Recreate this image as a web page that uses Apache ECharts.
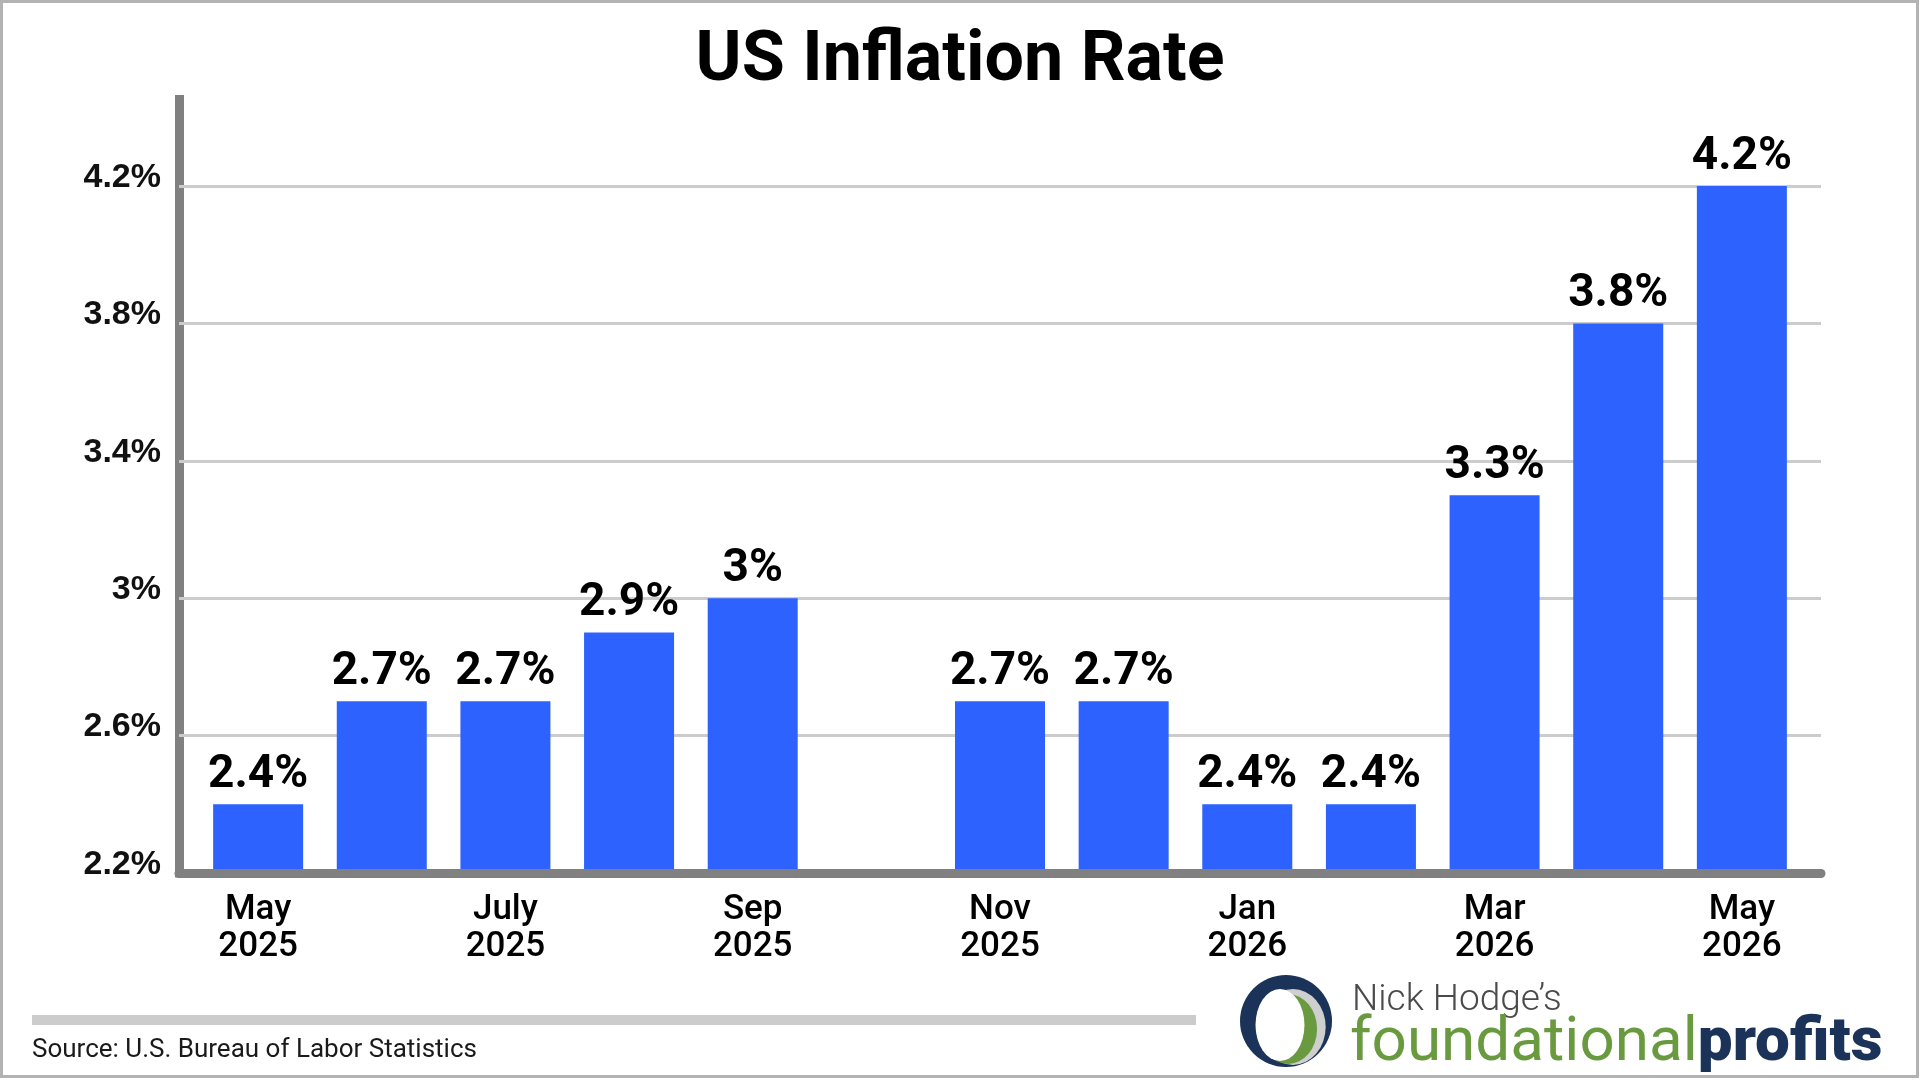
<!DOCTYPE html>
<html lang="en">
<head>
<meta charset="UTF-8">
<title>US Inflation Rate</title>
<script src="https://cdn.jsdelivr.net/npm/echarts@6.0.0/dist/echarts.min.js"></script>
<style>
  html, body { margin: 0; padding: 0; background: #fff; }
  #chart { width: 1920px; height: 1080px; }
</style>
</head>
<body>
<div id="chart"></div>
<script>
// months, Oct 2025 has no reading (null)
var categories = ['May 2025', 'Jun 2025', 'July 2025', 'Aug 2025', 'Sep 2025', 'Oct 2025',
                  'Nov 2025', 'Dec 2025', 'Jan 2026', 'Feb 2026', 'Mar 2026', 'Apr 2026', 'May 2026'];
var inflation = [2.4, 2.7, 2.7, 2.9, 3, null, 2.7, 2.7, 2.4, 2.4, 3.3, 3.8, 4.2];
var yTicks = [2.2, 2.6, 3, 3.4, 3.8, 4.2];

var myChart = echarts.init(document.getElementById('chart'));

var barData = [];
for (var i = 0; i < categories.length; i++) {
    if (inflation[i] != null) barData.push([i, inflation[i]]);
}
var xTicks = categories.map(function (c, i) { return i; }).filter(function (i) { return i % 2 === 0; });

myChart.setOption({
    animation: false,
    title: {
        text: 'US Inflation Rate',
        left: 'center',
        top: 22,
        textStyle: { fontFamily: 'Roboto', fontSize: 70, fontWeight: 'bold', color: '#000', lineHeight: 70 }
    },
    grid: { left: 179, right: 99, top: 99.5, bottom: 207, outerBoundsMode: 'none' },
    xAxis: {
        type: 'value',
        min: -0.64,
        max: 12.64,
        z: 3,
        splitLine: { show: false },
        axisTick: { show: false },
        axisLine: { show: true, lineStyle: { color: '#808080', width: 9 } },
        axisLabel: {
            customValues: xTicks,
            formatter: function (v) { return categories[Math.round(v)].replace(' ', '\n'); },
            margin: 19,
            fontFamily: 'Roboto',
            fontWeight: 500,
            fontSize: 35,
            lineHeight: 37,
            color: '#000'
        }
    },
    yAxis: {
        type: 'value',
        min: 2.2,
        max: 4.452,
        splitLine: { show: false },
        axisTick: { show: false },
        axisLine: { show: true, onZero: false, lineStyle: { color: '#808080', width: 9, cap: 'square' } },
        axisLabel: {
            customValues: yTicks,
            formatter: function (v) { return (Math.round(v * 10) / 10) + '%'; },
            margin: 18,
            verticalAlign: 'bottom',
            lineHeight: 17,
            fontFamily: 'Liberation Sans',
            fontWeight: 'bold',
            fontSize: 34,
            color: '#111'
        }
    },
    series: [{
        type: 'bar',
        data: barData,
        barWidth: 90,
        itemStyle: { color: '#2d62ff' },
        label: {
            show: true,
            position: 'top',
            distance: 6,
            formatter: function (p) { return p.value[1] + '%'; },
            fontFamily: 'Roboto',
            fontWeight: 'bold',
            fontSize: 46,
            color: '#000'
        },
        markLine: {
            silent: true,
            z: 1,
            symbol: 'none',
            label: { show: false },
            lineStyle: { color: '#cccccc', width: 3, type: 'solid' },
            data: yTicks.filter(function (v) { return v > 2.2; }).map(function (v) { return { yAxis: v }; })
        }
    }],
    graphic: [
        { type: 'rect', shape: { x: 1.5, y: 1.5, width: 1916, height: 1075 },
          style: { fill: 'none', stroke: '#b3b3b3', lineWidth: 3 }, silent: true },
        { type: 'rect', shape: { x: 32, y: 1015, width: 1164, height: 10 }, style: { fill: '#cccccc' } },
        { type: 'text', left: 32, top: 1037,
          style: { text: 'Source: U.S. Bureau of Labor Statistics', fontFamily: 'Roboto', fontSize: 26, fill: '#1a1a1a' } },
        // logo
        { type: 'circle', shape: { cx: 1286, cy: 1021, r: 46 }, style: { fill: '#1b3358' } },
        { type: 'circle', shape: { cx: 0, cy: 0, r: 38 }, x: 1293, y: 1027, scaleX: 0.86, scaleY: 1, style: { fill: '#cfcfcf' } },
        { type: 'circle', shape: { cx: 0, cy: 0, r: 35 }, x: 1288, y: 1029, scaleX: 0.83, scaleY: 1, style: { fill: '#6a9a3f' } },
        { type: 'circle', shape: { cx: 0, cy: 0, r: 36 }, x: 1280, y: 1025, scaleX: 0.68, scaleY: 1, style: { fill: '#ffffff' } },
        { type: 'text', x: 1352, y: 1001,
          style: { text: 'Nick Hodge\u2019s', fontFamily: 'Roboto', fontWeight: 300, fontSize: 37, fill: '#4a4a4a', verticalAlign: 'middle' } },
        { type: 'text', x: 1350, y: 1044,
          style: {
              text: '{a|foundational}{b|profits}',
              verticalAlign: 'middle',
              rich: {
                  a: { fontFamily: 'Roboto', fontSize: 62, fontWeight: 400, fill: '#6a9a3f' },
                  b: { fontFamily: 'Roboto', fontSize: 62, fontWeight: 900, fill: '#1b3358' }
              }
          } }
    ]
});
</script>
</body>
</html>
